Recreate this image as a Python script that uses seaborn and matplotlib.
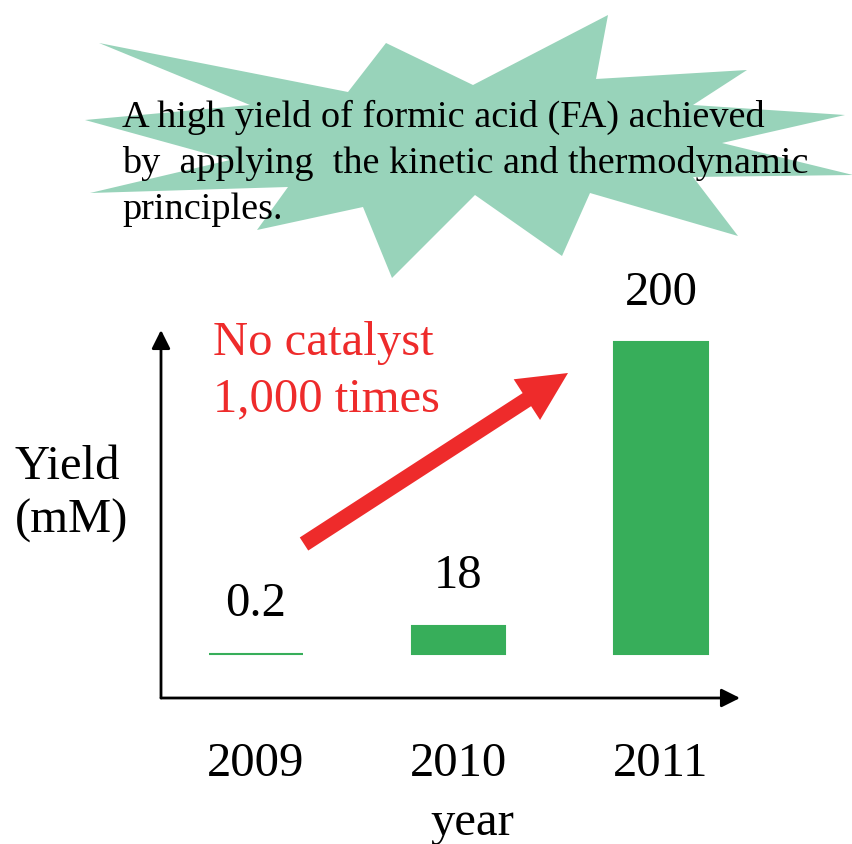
import matplotlib
matplotlib.use('Agg')
import matplotlib.pyplot as plt
import matplotlib.patches as mpatches
import seaborn as sns
import pandas as pd

sns.set_style('white')
plt.rcParams['font.family'] = ['Liberation Serif', 'DejaVu Serif']
plt.rcParams['text.color'] = 'black'
plt.rcParams['xtick.color'] = 'black'

# data
years = ['2009', '2010', '2011']
yield_mm = [0.2, 18, 200]
value_labels = ['0.2', '18', '200']

BAR_GREEN = '#37AE5A'
BURST_GREEN = '#98D3BA'
RED = '#EE2B2B'

W, H = 853, 844
fig = plt.figure(figsize=(W / 100, H / 100), dpi=100)

# main bar axes (pixel box: x 161-740, y 330-698)
ax = fig.add_axes([161 / W, 1 - 698 / H, (740 - 161) / W, (698 - 330) / H])
df = pd.DataFrame({'year': years, 'yield': yield_mm})
sns.barplot(data=df, x='year', y='yield', color=BAR_GREEN, saturation=1,
            width=0.46, edgecolor=BAR_GREEN, linewidth=1.5, ax=ax)
ax.set_xlim(-0.469, 2.39)
ax.set_ylim(-28.2, 207.7)
ax.set_facecolor('none')
for s in ax.spines.values():
    s.set_visible(False)
ax.set_yticks([])
ax.set_xlabel('')
ax.set_ylabel('')
ax.tick_params(axis='x', length=0, pad=32, labelsize=35, labelcolor='black')

# value labels above bars
for i, (v, lab) in enumerate(zip(yield_mm, value_labels)):
    ax.annotate(lab, (i, v), xytext=(0, 27), textcoords='offset points',
                ha='center', va='baseline', fontsize=35, color='black')

# axis arrows
arrow_kw = dict(arrowstyle='-|>', lw=2, color='black', mutation_scale=28,
                shrinkA=0, shrinkB=0)
ax.annotate('', xy=(0, 1), xytext=(0, 0), xycoords='axes fraction',
            arrowprops=arrow_kw, annotation_clip=False)
ax.annotate('', xy=(1, 0), xytext=(0, 0), xycoords='axes fraction',
            arrowprops=arrow_kw, annotation_clip=False)

# overlay in pixel coordinates for decorations
ov = fig.add_axes([0, 0, 1, 1])
ov.set_xlim(0, W)
ov.set_ylim(H, 0)
ov.axis('off')
ov.patch.set_visible(False)

burst = [(99, 43), (348, 92), (386, 43), (473, 85), (608, 15), (596, 79),
         (747, 70), (693, 105), (845, 115), (722, 143), (853, 175),
         (693, 177), (738, 236), (590, 193), (562, 256), (475, 195),
         (392, 278), (363, 207), (257, 230), (288, 187), (90, 193),
         (230, 160), (85, 120), (250, 105)]
ov.add_patch(mpatches.Polygon(burst, closed=True, facecolor=BURST_GREEN,
                              edgecolor='none', zorder=1))
ov.text(122, 163, 'A high yield of formic acid (FA) achieved\n'
        'by  applying  the kinetic and thermodynamic\nprinciples.',
        ha='left', va='center', fontsize=27.5, linespacing=1.42, zorder=2)

ov.text(213, 371, 'No catalyst\n1,000 times', ha='left', va='center',
        fontsize=35, color=RED, linespacing=1.38)
ov.add_patch(mpatches.FancyArrow(304, 544, 568 - 304, 373 - 544, width=15.6,
                                 head_width=48.5, head_length=49,
                                 length_includes_head=True, color=RED,
                                 linewidth=0))

ov.text(15, 494, 'Yield\n(mM)', ha='left', va='center', fontsize=35,
        linespacing=1.3)
ov.text(472, 823, 'year', ha='center', va='center', fontsize=35)

fig.savefig('out.png', dpi=100)
